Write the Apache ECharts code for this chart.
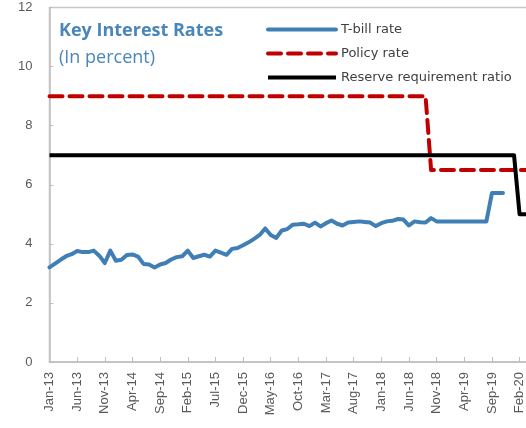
<!DOCTYPE html>
<html>
<head>
<meta charset="utf-8">
<script src="https://cdn.jsdelivr.net/npm/echarts@6/dist/echarts.min.js"></script>
<style>
  html, body { margin: 0; padding: 0; background: #ffffff; }
  #chart { width: 526px; height: 428px; }
</style>
</head>
<body>
<div id="chart"></div>
<script>
// Monthly axis: Jan-13 onward
const monthNames = ['Jan','Feb','Mar','Apr','May','Jun','Jul','Aug','Sep','Oct','Nov','Dec'];
const startYear = 2013;
const monthCount = 90;
const categories = [];
for (let i = 0; i < monthCount; i++) {
  const y = startYear + Math.floor(i / 12);
  categories.push(monthNames[i % 12] + '-' + String(y).slice(2));
}

// T-bill rate, Jan-13 .. Nov-19 (percent)
const tbillRate = [
  3.20, 3.33, 3.46, 3.58, 3.65, 3.76, 3.72, 3.72, 3.77, 3.60, 3.35, 3.77,
  3.43, 3.46, 3.62, 3.64, 3.57, 3.32, 3.30, 3.20, 3.30, 3.35, 3.47, 3.55,
  3.58, 3.77, 3.52, 3.58, 3.63, 3.57, 3.77, 3.70, 3.63, 3.83, 3.86, 3.95,
  4.05, 4.17, 4.30, 4.52, 4.30, 4.20, 4.45, 4.50, 4.65, 4.66, 4.68, 4.60,
  4.72, 4.59, 4.70, 4.79, 4.68, 4.62, 4.72, 4.74, 4.76, 4.74, 4.72, 4.60,
  4.70, 4.76, 4.78, 4.84, 4.82, 4.62, 4.76, 4.73, 4.72, 4.87, 4.76, 4.76,
  4.76, 4.76, 4.76, 4.76, 4.76, 4.76, 4.76, 4.76, 5.72, 5.72, 5.72
];

// Policy rate: 9 through Sep-18, 6.5 afterwards
const policyRate = [];
for (let i = 0; i < monthCount; i++) policyRate.push(i <= 68 ? 9 : 6.5);

// Reserve requirement ratio: 7 through Jan-20, 5 afterwards
const reserveRatio = [];
for (let i = 0; i < monthCount; i++) reserveRatio.push(i <= 84 ? 7 : 5);

const seriesNames = ['T-bill rate', 'Policy rate', 'Reserve requirement ratio'];

const chart = echarts.init(document.getElementById('chart'), null, { renderer: 'canvas' });

chart.setOption({
  animation: false,
  backgroundColor: '#ffffff',
  title: {
    text: 'Key Interest Rates',
    subtext: '(In percent)',
    left: 54,
    top: 15,
    itemGap: 5,
    textStyle: {
      fontFamily: 'Open Sans',
      fontSize: 18,
      fontWeight: 'bold',
      color: '#4a86b9',
      lineHeight: 22
    },
    subtextStyle: {
      fontFamily: 'Open Sans',
      fontSize: 18,
      color: '#4a86b9',
      lineHeight: 22
    }
  },
  legend: {
    orient: 'vertical',
    left: 261,
    top: 18,
    itemWidth: 68,
    itemHeight: 14,
    itemGap: 11,
    itemStyle: { opacity: 0 },
    lineStyle: { width: 4 },
    textStyle: {
      fontFamily: 'DejaVu Sans',
      fontSize: 13,
      color: '#404040'
    },
    data: seriesNames
  },
  grid: {
    left: 49.5,
    top: 7.5,
    bottom: 66,
    right: -15.7,
    containLabel: false,
    outerBoundsMode: 'none',
    show: true,
    borderColor: '#c8c8c8',
    borderWidth: 1.5
  },
  xAxis: {
    type: 'category',
    data: categories,
    boundaryGap: false,
    axisLine: { lineStyle: { color: '#bfbfbf', width: 1.5 } },
    axisTick: { inside: true, length: 5, interval: 4, lineStyle: { color: '#bfbfbf' } },
    axisLabel: {
      interval: 4,
      rotate: 90,
      margin: 10,
      fontFamily: 'Liberation Sans',
      fontSize: 13,
      color: '#595959'
    },
    splitLine: { show: false }
  },
  yAxis: {
    type: 'value',
    min: 0,
    max: 12,
    interval: 2,
    axisLine: { show: true, lineStyle: { color: '#bfbfbf', width: 1.5 } },
    axisTick: { show: true, inside: true, length: 4, lineStyle: { color: '#bfbfbf' } },
    axisLabel: {
      margin: 17,
      fontFamily: 'Liberation Sans',
      fontSize: 13,
      color: '#595959'
    },
    splitLine: { show: false }
  },
  series: [
    {
      name: seriesNames[0],
      type: 'line',
      data: tbillRate,
      showSymbol: false,
      symbol: 'none',
      lineStyle: { color: '#3f7fb6', width: 4, cap: 'round', join: 'round' },
      itemStyle: { color: '#3f7fb6' },
      z: 3
    },
    {
      name: seriesNames[1],
      type: 'line',
      data: policyRate,
      showSymbol: false,
      symbol: 'none',
      lineStyle: { color: '#c00000', width: 4, type: [13, 7], cap: 'round', join: 'round' },
      itemStyle: { color: '#c00000' },
      z: 2
    },
    {
      name: seriesNames[2],
      type: 'line',
      data: reserveRatio,
      showSymbol: false,
      symbol: 'none',
      lineStyle: { color: '#000000', width: 4, join: 'round' },
      itemStyle: { color: '#000000' },
      z: 2
    }
  ]
});
</script>
</body>
</html>
